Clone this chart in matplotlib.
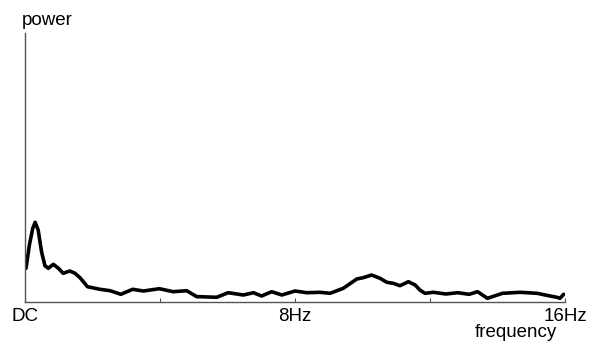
import matplotlib
matplotlib.use('Agg')
import matplotlib.pyplot as plt

# spectrum (frequency in Hz, power in arbitrary units)
freq = [0.03, 0.13, 0.23, 0.30, 0.39, 0.49, 0.59, 0.69, 0.84, 0.99, 1.13,
        1.33, 1.48, 1.63, 1.85, 2.22, 2.52, 2.84,
        3.19, 3.51, 3.98, 4.39, 4.79, 5.09, 5.19, 5.68, 6.02, 6.47, 6.77,
        7.01, 7.31, 7.61, 8.00, 8.35, 8.74, 9.04, 9.43, 9.83, 10.02, 10.27,
        10.52, 10.72, 10.91, 11.11, 11.36, 11.56, 11.70, 11.85, 12.10, 12.47,
        12.82, 13.16, 13.41, 13.70, 14.15, 14.67, 15.17, 15.56, 15.76, 15.85, 15.96]
power = [33.7, 57.0, 73.7, 79.7, 72.0, 50.3, 36.3, 33.7, 37.7, 33.7, 28.7,
         31.0, 28.7, 24.3, 15.3, 12.7, 11.3, 7.7,
         12.7, 11.0, 13.3, 10.3, 11.3, 5.3, 5.3, 4.7, 9.3, 7.0, 9.3,
         6.0, 10.3, 7.0, 11.0, 9.3, 9.7, 8.7, 13.7, 23.0, 24.3, 27.0,
         23.7, 19.7, 18.7, 16.3, 20.3, 17.0, 12.0, 8.7, 9.7, 8.0,
         9.3, 7.7, 10.3, 3.7, 8.7, 9.7, 8.7, 6.0, 4.7, 3.7, 7.7]

tick_pos = [0, 8, 16]
tick_labels = ['DC', '8Hz', '16Hz']
minor_pos = [4, 12]

plt.rcParams['font.family'] = ['Liberation Sans', 'DejaVu Sans']

fig = plt.figure(figsize=(5.9, 3.49), dpi=100)
ax = fig.add_axes([25 / 590, 47 / 349, 540 / 590, 269 / 349])
ax.plot(freq, power, color='black', lw=2.6, solid_joinstyle='round', solid_capstyle='round')
ax.set_xlim(0, 16)
ax.set_ylim(0, 269)

for s in ['top', 'right']:
    ax.spines[s].set_visible(False)
for s in ['left', 'bottom']:
    ax.spines[s].set_color('#555555')
    ax.spines[s].set_linewidth(1.0)

ax.set_yticks([])
ax.set_xticks(tick_pos)
ax.set_xticklabels([])
ax.set_xticks(minor_pos, minor=True)
ax.tick_params(axis='x', which='both', direction='in', length=3, width=0.8, color='#555555')

for p, lab in zip(tick_pos, tick_labels):
    ax.text(p, -6, lab, ha='center', va='top', fontsize=13.5, clip_on=False)

fig.text(22 / 590, 1 - 25 / 349, 'power', ha='left', va='baseline', fontsize=13.5)
fig.text(557 / 590, 1 - 337 / 349, 'frequency', ha='right', va='baseline', fontsize=13.5)

fig.savefig('out.png', dpi=100)
